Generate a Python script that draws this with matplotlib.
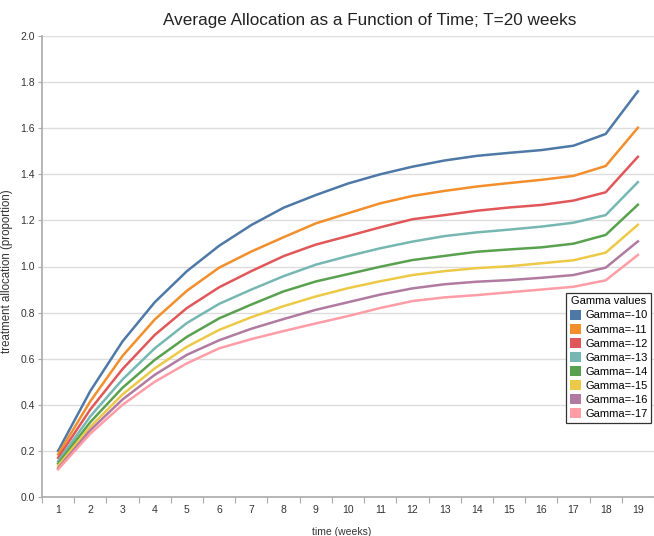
import matplotlib
matplotlib.use("Agg")
import matplotlib.pyplot as plt
from matplotlib.patches import Patch

plt.rcParams['font.family'] = ['Liberation Sans', 'DejaVu Sans']

# weekly average allocation for each gamma value
weeks = list(range(1, 20))
gamma_labels = ['Gamma=-10', 'Gamma=-11', 'Gamma=-12', 'Gamma=-13',
                'Gamma=-14', 'Gamma=-15', 'Gamma=-16', 'Gamma=-17']

g10 = [0.20, 0.46, 0.675, 0.845, 0.98, 1.09, 1.18, 1.255, 1.31, 1.36,
       1.40, 1.433, 1.46, 1.48, 1.493, 1.505, 1.524, 1.575, 1.76]
g11 = [0.185, 0.415, 0.612, 0.77, 0.895, 0.995, 1.065, 1.127, 1.187, 1.231,
       1.274, 1.306, 1.328, 1.347, 1.362, 1.376, 1.393, 1.436, 1.602]
g12 = [0.17, 0.38, 0.555, 0.703, 0.82, 0.91, 0.98, 1.045, 1.095, 1.132,
       1.17, 1.205, 1.223, 1.242, 1.256, 1.267, 1.286, 1.322, 1.476]
g13 = [0.155, 0.35, 0.51, 0.645, 0.755, 0.838, 0.90, 0.958, 1.008, 1.045,
       1.079, 1.108, 1.132, 1.148, 1.16, 1.173, 1.19, 1.223, 1.366]
g14 = [0.145, 0.325, 0.474, 0.595, 0.695, 0.775, 0.835, 0.892, 0.935, 0.967,
       0.999, 1.028, 1.046, 1.064, 1.074, 1.083, 1.099, 1.137, 1.268]
g15 = [0.135, 0.305, 0.445, 0.558, 0.652, 0.725, 0.78, 0.828, 0.87, 0.906,
       0.936, 0.963, 0.98, 0.993, 1.001, 1.014, 1.027, 1.06, 1.181]
g16 = [0.125, 0.29, 0.423, 0.53, 0.617, 0.68, 0.73, 0.772, 0.812, 0.845,
       0.878, 0.905, 0.923, 0.934, 0.941, 0.951, 0.963, 0.995, 1.109]
g17 = [0.12, 0.275, 0.40, 0.50, 0.58, 0.645, 0.685, 0.72, 0.753, 0.785,
       0.82, 0.85, 0.866, 0.876, 0.888, 0.90, 0.912, 0.94, 1.05]

series = [g10, g11, g12, g13, g14, g15, g16, g17]
colors = ['#4e79a7', '#f28e2b', '#e15759', '#76b7b2',
          '#59a14f', '#edc948', '#b07aa1', '#ff9da7']

fig = plt.figure(figsize=(6.54, 5.36), dpi=100)
ax = fig.add_axes([42 / 654, 39 / 536, 612 / 654, 461 / 536])

for vals, c in zip(series, colors):
    ax.plot(weeks, vals, color=c, lw=1.8, solid_joinstyle='round')

ax.set_xlim(0.5, 19.5)
ax.set_ylim(0, 2.0)
ax.set_yticks([i * 0.2 for i in range(11)])
ax.set_yticklabels(['%.1f' % (i * 0.2) for i in range(11)])
ax.set_xticks(weeks)
ax.set_xticks([w + 0.5 for w in range(0, 20)], minor=True)
ax.tick_params(axis='x', which='major', length=0, pad=6, labelsize=7.5, labelcolor='#333333')
ax.tick_params(axis='x', which='minor', length=4, color='#aaaaaa', width=0.8)
ax.tick_params(axis='y', length=3, color='#aaaaaa', width=0.8, labelsize=7.5, labelcolor='#333333', pad=2)

ax.grid(axis='y', color='#dddddd', lw=1)
ax.set_axisbelow(True)
for s in ['top', 'right']:
    ax.spines[s].set_visible(False)
for s in ['left', 'bottom']:
    ax.spines[s].set_color('#aaaaaa')
    ax.spines[s].set_linewidth(1.2)

ax.set_xlabel('time (weeks)', fontsize=7.5, color='#333333')
ax.set_ylabel('treatment allocation (proportion)', fontsize=8.3, color='#333333')
ax.xaxis.set_label_coords(300 / 612, -30 / 461)
ax.yaxis.set_label_coords(-29 / 612, 0.49)

fig.text(370 / 654, 1 - 20 / 536, 'Average Allocation as a Function of Time; T=20 weeks',
         ha='center', va='center', fontsize=12.3, color='#222222')

handles = [Patch(facecolor=c, edgecolor='none') for c in colors]
leg = fig.legend(handles, gamma_labels, title='Gamma values',
                 loc='upper right', bbox_to_anchor=(651 / 654, 1 - 293 / 536),
                 borderaxespad=0,
                 fontsize=8, title_fontsize=8, handlelength=1.0, handleheight=1.0,
                 handletextpad=0.4, labelspacing=0.3, borderpad=0.3,
                 fancybox=False, framealpha=1, edgecolor='#333333')
leg.get_frame().set_linewidth(0.9)

fig.savefig('out.png', dpi=100)
